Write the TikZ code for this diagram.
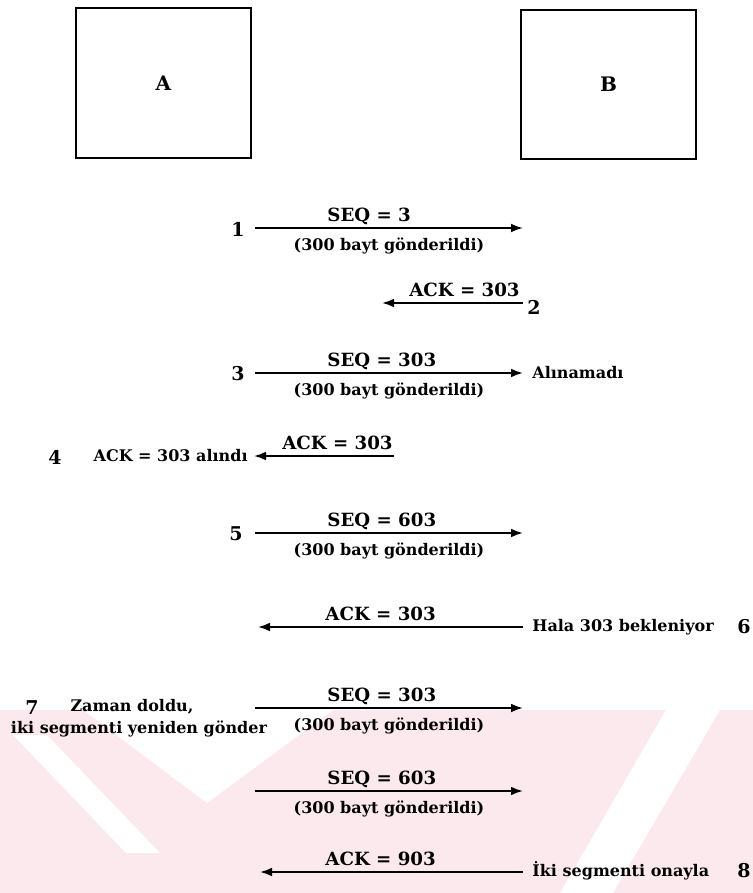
\documentclass[tikz,border=0pt]{standalone}
\usepackage{fontspec}
\setmainfont{DejaVu Serif}
\usetikzlibrary{arrows.meta, positioning}

\definecolor{wmpink}{RGB}{252,233,237}

\begin{document}
\begin{tikzpicture}[
  x=0.5pt, y=-0.5pt,
  host/.style={draw, line width=1pt, minimum width=87.5pt, minimum height=75pt, inner sep=0pt, font=\bfseries\fontsize{10}{12}\selectfont},
  msg/.style={-{Latex[length=6pt,width=4.4pt]}, line width=0.95pt},
  seqlbl/.style={inner sep=0pt, font=\bfseries\fontsize{9.1}{11}\selectfont},
  paren/.style={inner sep=0pt, font=\bfseries\fontsize{8}{9}\selectfont},
  note/.style={inner sep=0pt, font=\bfseries\fontsize{8}{9}\selectfont},
  stepno/.style={inner sep=0pt, font=\bfseries\fontsize{9.5}{11}\selectfont},
]
\useasboundingbox (0,0) rectangle (753,893);

% background watermark bands
\fill[wmpink] (0,710) rectangle (753,893);
\fill[white] (83,710) -- (333,710) -- (207,803) -- cycle;
\fill[white] (13,735) -- (47,735) -- (160,853) -- (126,853) -- cycle;
\fill[white] (666,710) -- (720,710) -- (613,893) -- (560,893) -- cycle;

% Hosts
\node[host] (hostA) at (163.5,83.5) {A};
\node[host, minimum height=74.5pt] (hostB) at (608.5,84.5) {B};

% =========================
% Segments A -> B
% =========================
\foreach \y/\s [count=\k] in {228/3, 373/303, 533/603, 708/303, 791/603} {
  \coordinate (segL\k) at (255,\y);
  \coordinate (segR\k) at (523,\y);
  \draw[msg] (segL\k) -- (segR\k);
  \node[seqlbl, anchor=base west] (seq\k) at (327,\y-7) {SEQ = \s};
  \node[paren, anchor=base] (pay\k) at (389,\y+22) {(300 bayt gönderildi)};
}

% =========================
% Acknowledgements B -> A
% =========================
\coordinate (ackR2) at (523,303);
\coordinate (ackL2) at (382,303);
\draw[msg] (ackR2) -- (ackL2);
\node[seqlbl, anchor=base east] (ack2) at (520,296) {ACK = 303};

\coordinate (ackR4) at (394,456);
\coordinate (ackL4) at (254,456);
\draw[msg] (ackR4) -- (ackL4);
\node[seqlbl, anchor=base east] (ack4) at (393,449) {ACK = 303};

\coordinate (ackR6) at (523,627);
\coordinate (ackL6) at (258,627);
\draw[msg] (ackR6) -- (ackL6);
\node[seqlbl, anchor=base west] (ack6) at (325,620) {ACK = 303};

\coordinate (ackR8) at (523,872);
\coordinate (ackL8) at (260,872);
\draw[msg] (ackR8) -- (ackL8);
\node[seqlbl, anchor=base west] (ack8) at (325,865) {ACK = 903};

% =========================
% Step numbers and notes
% =========================
\node[stepno] (n1) at (238,229) {1};
\node[stepno] (n2) at (534,307) {2};
\node[stepno] (n3) at (238,374) {3};
\node[note, anchor=west] (lost3) at (532,373) {Alınamadı};
\node[stepno] (n4) at (55,457) {4};
\node[note, anchor=east] (got4) at (248,456) {ACK = 303 alındı};
\node[stepno] (n5) at (236,534) {5};
\node[note, anchor=west] (wait6) at (532,627) {Hala 303 bekleniyor};
\node[stepno] (n6) at (744,627) {6};
\node[stepno] (n7) at (32,708) {7};
\node[note] (tout7) at (132,707) {Zaman doldu,};
\node[note] (resend7) at (139,729) {iki segmenti yeniden gönder};
\node[note, anchor=west] (conf8) at (532,871) {İki segmenti onayla};
\node[stepno] (n8) at (744,871) {8};

\end{tikzpicture}
\end{document}
